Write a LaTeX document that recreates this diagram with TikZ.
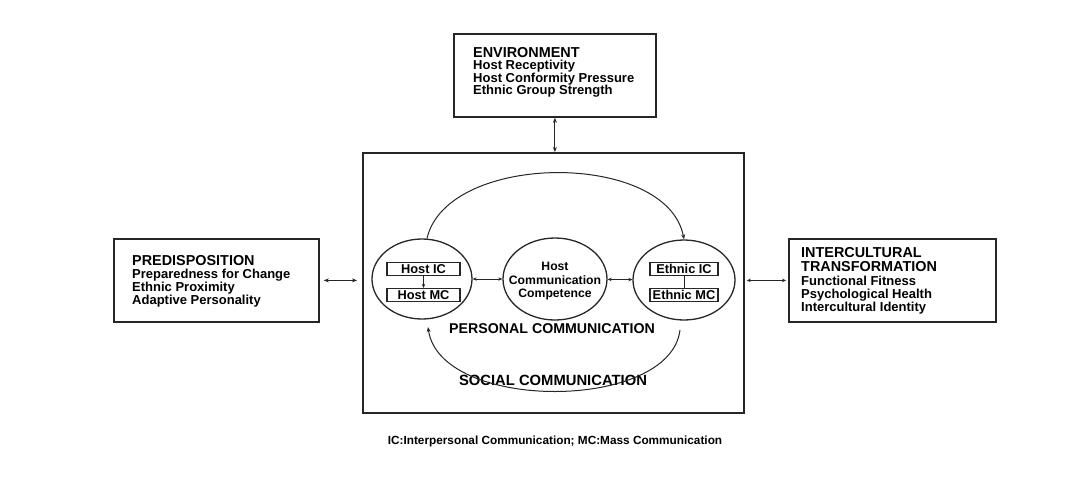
\documentclass[tikz,border=0pt]{standalone}
\usepackage{fontspec}
\setmainfont{Liberation Sans}
\usetikzlibrary{shapes.geometric,arrows.meta}
\begin{document}
\begin{tikzpicture}[x=1pt,y=-1pt,
  >={Stealth[length=5pt,width=4pt]},
  box/.style={draw=black!85, line width=1.8pt, inner sep=0},
  ell/.style={ellipse, draw=black!85, line width=1.3pt, inner sep=0},
  sbox/.style={draw=black!85, line width=1.1pt, minimum height=13pt, inner sep=0,
    font=\fontsize{12.8}{12}\selectfont\bfseries},
  ttl/.style={anchor=base west, inner sep=0, font=\fontsize{14.4}{14}\selectfont\bfseries},
  itm/.style={anchor=base west, inner sep=0, font=\fontsize{13}{13}\selectfont\bfseries},
  ctr/.style={anchor=base, inner sep=0, font=\fontsize{12.2}{12}\selectfont\bfseries},
  big/.style={anchor=base, inner sep=0, font=\fontsize{14.2}{14}\selectfont\bfseries},
  con/.style={draw=black!85, line width=1pt},
]
\useasboundingbox (0,0) rectangle (1074,491);

% outer boxes
\node[box, minimum width=202pt, minimum height=83pt, anchor=north west] (env) at (453,33) {};
\node[box, minimum width=205pt, minimum height=83pt, anchor=north west] (pred) at (113,238) {};
\node[box, minimum width=207pt, minimum height=83pt, anchor=north west] (interc) at (788,238) {};
\node[box, minimum width=381pt, minimum height=260pt, anchor=north west] (frame) at (362,152) {};

% box texts
\node[ttl] (envT) at (473,57) {ENVIRONMENT};
\node[itm] (env1) at (473,69.5) {Host Receptivity};
\node[itm] (env2) at (473,82) {Host Conformity Pressure};
\node[itm] (env3) at (473,94.5) {Ethnic Group Strength};

\node[ttl] (predT) at (132,265) {PREDISPOSITION};
\node[itm] (pred1) at (132,278) {Preparedness for Change};
\node[itm] (pred2) at (132,291) {Ethnic Proximity};
\node[itm] (pred3) at (132,304) {Adaptive Personality};

\node[ttl] (intT1) at (801,257) {INTERCULTURAL};
\node[ttl] (intT2) at (801,271) {TRANSFORMATION};
\node[itm] (int1) at (801,285) {Functional Fitness};
\node[itm] (int2) at (801,298) {Psychological Health};
\node[itm] (int3) at (801,311) {Intercultural Identity};

% ellipses
\node[ell, minimum width=100pt, minimum height=80pt] (lell) at (422,279) {};
\node[ell, minimum width=104pt, minimum height=82pt] (mell) at (555,279) {};
\node[ell, minimum width=102pt, minimum height=80pt] (rell) at (684,280) {};

% small boxes
\node[sbox, minimum width=73pt] (hic) at (423.5,269) {Host IC};
\node[sbox, minimum width=73pt] (hmc) at (423.5,295) {Host MC};
\node[sbox, minimum width=68pt] (eic) at (684,269) {Ethnic IC};
\node[sbox, minimum width=68pt] (emc) at (684,295) {Ethnic MC};

% middle text
\node[ctr] (m1) at (555,270) {Host};
\node[ctr] (m2) at (555,284) {Communication};
\node[ctr] (m3) at (555,297) {Competence};

\node[big] (pers) at (552,333) {PERSONAL COMMUNICATION};
\node[big, font=\fontsize{14.8}{14}\selectfont\bfseries] (soc) at (553,385) {SOCIAL COMMUNICATION};
\node[anchor=base, inner sep=0, font=\fontsize{11.8}{11}\selectfont\bfseries] (foot) at (555,444)
  {IC:Interpersonal Communication; MC:Mass Communication};

% connectors
\draw[con, ->, >={Stealth[length=4pt,width=3.5pt]}] (hic) -- (hmc);
\draw[con] (eic) -- (emc);
\draw[con, <->, line width=0.8pt, >={Stealth[length=4pt,width=3.5pt]}] (lell) -- (mell);
\draw[con, <->, line width=0.8pt, >={Stealth[length=4pt,width=3.5pt]}] (mell) -- (rell);

\draw[con, ->] (lell.83) .. controls +(20,-87) and +(-17,-89) .. (rell.north);
\coordinate (sR) at (680,330);
\coordinate (sL) at (428,327);
\draw[con, ->] (sR) .. controls (670,412) and (440,412) .. (sL);

\draw[con, <->] (env.south) -- (env.south |- frame.north);
\draw[con, <->, shorten <=4pt, shorten >=5pt] (pred.east) -- (pred.east -| frame.west);
\draw[con, <->, line width=0.9pt, >={Stealth[length=4pt,width=3.5pt]}, shorten <=2pt, shorten >=2pt] (frame.east |- interc.west) -- (interc.west);
\end{tikzpicture}
\end{document}
